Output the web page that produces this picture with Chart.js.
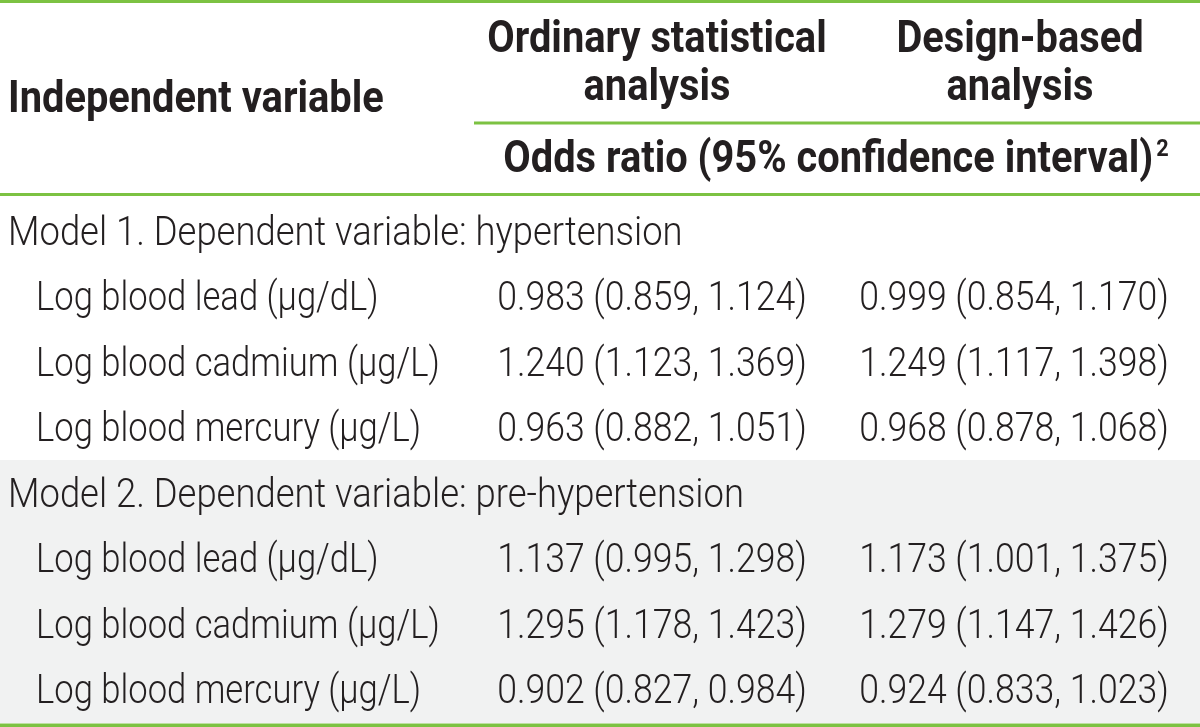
<!DOCTYPE html>
<html>
<head>
<meta charset="utf-8">
<script src="https://cdn.jsdelivr.net/npm/chart.js@4/dist/chart.umd.min.js"></script>
<style>
  html, body { margin: 0; padding: 0; background: #ffffff; }
  #wrap { width: 1200px; height: 727px; position: relative; }
</style>
</head>
<body>
<div id="wrap"><canvas id="tabel"></canvas></div>
<script>
"use strict";

// isi tabel
var stubHeader = "Independent variable";
var colHeaders = [["Ordinary statistical", "analysis"], ["Design-based", "analysis"]];
var spanHeader = "Odds ratio (95% confidence interval)";
var spanNote = "2";

var rowLabels = [
  "Model 1. Dependent variable: hypertension",
  "Log blood lead (\u00b5g/dL)",
  "Log blood cadmium (\u00b5g/L)",
  "Log blood mercury (\u00b5g/L)",
  "Model 2. Dependent variable: pre-hypertension",
  "Log blood lead (\u00b5g/dL)",
  "Log blood cadmium (\u00b5g/L)",
  "Log blood mercury (\u00b5g/L)",
];
var rowGroup = [1, 1, 1, 1, 2, 2, 2, 2];
var isModelRow = [true, false, false, false, true, false, false, false];

var ordOR = [null, 0.983, 1.24, 0.963, null, 1.137, 1.295, 0.902];
var ordLow = [null, 0.859, 1.123, 0.882, null, 0.995, 1.178, 0.827];
var ordHigh = [null, 1.124, 1.369, 1.051, null, 1.298, 1.423, 0.984];

var desOR = [null, 0.999, 1.249, 0.968, null, 1.173, 1.279, 0.924];
var desLow = [null, 0.854, 1.117, 0.878, null, 1.001, 1.147, 0.833];
var desHigh = [null, 1.17, 1.398, 1.068, null, 1.375, 1.426, 1.023];

// gaya
var hijau = "#7cc242";
var abu = "#f1f2f2";
var hitam = "#231f20";
var fontIsi = "300 40px Roboto";
var fontJudul = "bold 44px Roboto";
var fontNote = "bold 24px Roboto";
var sempitJudul = 0.905;
var sempitModel = 0.91;
var sempitLabel = 0.865;
var sempitAngka = 0.89;

function fmt(or, lo, hi) {
  return or.toFixed(3) + " (" + lo.toFixed(3) + ", " + hi.toFixed(3) + ")";
}

function tulis(ctx, text, x, y, align, font, k) {
  ctx.save();
  ctx.font = font;
  ctx.textAlign = align;
  ctx.textBaseline = "alphabetic";
  ctx.fillStyle = hitam;
  ctx.translate(x, y);
  ctx.scale(k, 1);
  ctx.fillText(text, 0, 0);
  ctx.restore();
}

function garis(ctx, x1, x2, y, w) {
  ctx.save();
  ctx.strokeStyle = hijau;
  ctx.lineWidth = w;
  ctx.beginPath();
  ctx.moveTo(x1, y);
  ctx.lineTo(x2, y);
  ctx.stroke();
  ctx.restore();
}

var tabelPlugin = {
  id: "tabel",
  afterDatasetsDraw: function (chart) {
    var ctx = chart.ctx;
    var xs = chart.scales.x;
    var ys = chart.scales.y;
    var area = chart.chartArea;
    var kol1 = xs.getPixelForValue(652);
    var kol2 = xs.getPixelForValue(1014);

    // garis hijau
    garis(ctx, area.left, area.right, 1.5, 3);
    garis(ctx, xs.getPixelForValue(474), area.right, 123, 3);
    garis(ctx, area.left, area.right, area.top - 4.5, 3);
    garis(ctx, area.left, area.right, area.bottom + 2.5, 4);

    // kepala tabel
    tulis(ctx, stubHeader, xs.getPixelForValue(8), 112, "left", fontJudul, sempitJudul);
    tulis(ctx, colHeaders[0][0], xs.getPixelForValue(657), 52, "center", fontJudul, sempitJudul);
    tulis(ctx, colHeaders[0][1], xs.getPixelForValue(657), 100, "center", fontJudul, sempitJudul);
    tulis(ctx, colHeaders[1][0], xs.getPixelForValue(1020), 52, "center", fontJudul, sempitJudul);
    tulis(ctx, colHeaders[1][1], xs.getPixelForValue(1020), 100, "center", fontJudul, sempitJudul);

    ctx.save();
    ctx.font = fontJudul;
    var wSpan = ctx.measureText(spanHeader).width * sempitJudul;
    ctx.font = fontNote;
    var wNote = ctx.measureText(spanNote).width * sempitJudul;
    ctx.restore();
    var kiriSpan = xs.getPixelForValue(836) - (wSpan + 3 + wNote) / 2;
    tulis(ctx, spanHeader, kiriSpan, 172, "left", fontJudul, sempitJudul);
    tulis(ctx, spanNote, kiriSpan + wSpan + 3, 156, "left", fontNote, sempitJudul);

    // isi baris
    rowLabels.forEach(function (lbl, i) {
      var y = ys.getPixelForValue(i) + 13;
      if (isModelRow[i]) {
        tulis(ctx, lbl, xs.getPixelForValue(8), y, "left", fontIsi, sempitModel);
      } else {
        tulis(ctx, lbl, xs.getPixelForValue(36), y, "left", fontIsi, sempitLabel);
      }
      if (ordOR[i] !== null) {
        tulis(ctx, fmt(ordOR[i], ordLow[i], ordHigh[i]), kol1, y, "center", fontIsi, sempitAngka);
      }
      if (desOR[i] !== null) {
        tulis(ctx, fmt(desOR[i], desLow[i], desHigh[i]), kol2, y, "center", fontIsi, sempitAngka);
      }
    });
  },
};

var el = document.getElementById("tabel").getContext("2d");
var tabel = new Chart(el, {
  type: "bar",
  data: {
    labels: rowLabels,
    datasets: [
      {
        label: "Model 2",
        data: rowGroup.map(function (g) { return g === 2 ? 1200 : null; }),
        backgroundColor: abu,
        borderWidth: 0,
        barPercentage: 1,
        categoryPercentage: 1,
        inflateAmount: 1,
      },
    ],
  },
  options: {
    indexAxis: "y",
    responsive: true,
    maintainAspectRatio: false,
    animation: false,
    layout: { padding: { top: 199, bottom: 4, left: 0, right: 0 } },
    scales: {
      x: { type: "linear", min: 0, max: 1200, display: false },
      y: { type: "category", display: false, offset: true },
    },
    plugins: {
      legend: { display: false },
      tooltip: { enabled: false },
    },
  },
  plugins: [tabelPlugin],
});
</script>
</body>
</html>
